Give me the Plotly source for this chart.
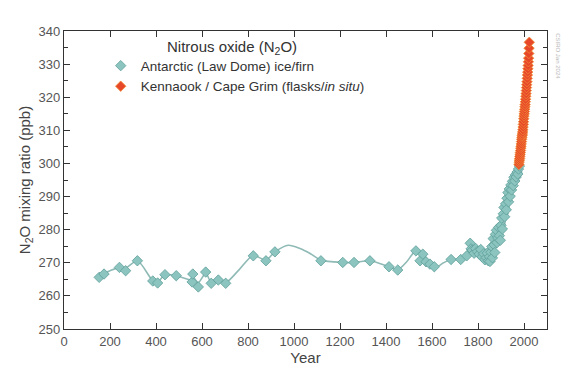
import plotly.graph_objects as go

# Antarctic (Law Dome) ice/firn samples
law_years = [153, 174, 241, 268, 319, 386, 407, 439, 488, 557, 560, 584, 616, 640, 671, 703,
             823, 878, 917, 1117, 1212, 1261, 1330, 1413, 1451, 1530, 1548, 1560, 1574, 1591,
             1610, 1683, 1725, 1751, 1766, 1770, 1775, 1783, 1790, 1797, 1805, 1812, 1818,
             1825, 1830, 1836, 1840, 1845, 1850, 1852, 1856, 1860, 1863, 1866, 1870, 1873,
             1876, 1880, 1883, 1886, 1890, 1893, 1897, 1900, 1903, 1906, 1910, 1913, 1916,
             1920, 1923, 1926, 1930, 1933, 1936, 1940, 1943, 1946, 1950, 1953, 1956, 1960,
             1963, 1966, 1970, 1973, 1976, 1980]
law_ppb = [265.6, 266.6, 268.6, 267.6, 270.6, 264.5, 263.9, 266.4, 266.1, 264.2, 266.6, 262.7,
           267.2, 263.8, 264.8, 263.8, 272.1, 270.6, 273.3, 270.6, 270.1, 270.1, 270.6, 268.8,
           267.8, 273.6, 270.6, 272.6, 270.3, 269.6, 268.8, 271.0, 271.0, 272.1, 275.9, 274.2,
           273.8, 272.9, 274.3, 273.4, 272.6, 274.0, 271.8, 272.7, 270.9, 271.6, 272.9, 270.6,
           271.8, 270.4, 273.2, 274.9, 271.5, 277.3, 275.4, 273.1, 278.6, 279.8, 276.1, 277.5,
           280.7, 278.2, 276.8, 281.3, 283.5, 280.2, 284.8, 286.7, 283.9, 287.8, 286.0, 289.5,
           291.2, 288.4, 292.3, 290.1, 293.5, 292.0, 294.6, 293.3, 295.8, 294.7, 296.6, 295.9,
           297.4, 296.8, 298.3, 299.2]

# Smoothed Law Dome curve
curve_years = [150, 174, 200, 243, 268, 319, 386, 407, 439, 488, 557, 560, 584, 616, 640, 671,
               703, 760, 823, 878, 917, 975, 1026, 1070, 1117, 1212, 1261, 1330, 1413, 1451,
               1490, 1530, 1562, 1613, 1650, 1683, 1726, 1751, 1765, 1794, 1838, 1870, 1900,
               1920, 1940, 1960, 1980]
curve_ppb = [265.6, 266.8, 267.6, 268.6, 268.4, 270.6, 264.6, 264.2, 266.4, 266.1, 264.8, 265.8,
             264.0, 266.8, 264.2, 264.8, 264.0, 267.8, 272.2, 270.8, 273.3, 275.3, 274.3, 272.8,
             270.8, 270.1, 270.1, 270.6, 268.8, 267.9, 270.3, 273.6, 272.3, 268.6, 270.0, 271.0,
             271.0, 271.8, 275.5, 273.6, 272.4, 274.2, 277.5, 283.0, 288.5, 293.5, 299.0]

# Kennaook / Cape Grim (flasks / in situ)
cg_years = list(range(1978, 2024))
cg_ppb = [299.7, 300.4, 301.0, 301.5, 302.1, 302.7, 303.3, 303.9, 304.6, 305.2, 305.9, 306.6,
          307.3, 307.9, 308.4, 308.9, 309.5, 310.2, 311.0, 311.8, 312.6, 313.5, 314.3, 315.0,
          315.7, 316.4, 317.1, 317.8, 318.6, 319.4, 320.3, 321.1, 322.0, 322.9, 323.8, 324.7,
          325.7, 326.7, 327.6, 328.6, 329.6, 330.7, 331.8, 333.2, 334.8, 336.6]

x_ticks = [0, 200, 400, 600, 800, 1000, 1200, 1400, 1600, 1800, 2000]
y_ticks = [250, 260, 270, 280, 290, 300, 310, 320, 330, 340]

FONT = "Liberation Sans Narrow, Liberation Sans, Arial, sans-serif"
TEAL_FILL = "#8cc4bf"
TEAL_EDGE = "#5f9f9a"

fig = go.Figure()
fig.add_trace(go.Scatter(
    x=curve_years, y=curve_ppb, mode="lines",
    line=dict(color="#8fbab6", width=1.6, shape="spline", smoothing=0.8),
    showlegend=False, hoverinfo="skip"))
fig.add_trace(go.Scatter(
    x=law_years, y=law_ppb, mode="markers", name="Antarctic (Law Dome) ice/firn",
    marker=dict(symbol="diamond", size=8, color=TEAL_FILL, line=dict(color=TEAL_EDGE, width=0.8))))
fig.add_trace(go.Scatter(
    x=cg_years, y=cg_ppb, mode="markers", name="Kennaook / Cape Grim (flasks/<i>in situ</i>)",
    marker=dict(symbol="diamond", size=8, color="#e8482a", line=dict(color="#f08a34", width=0.8))))

axis_common = dict(showline=True, linecolor="#333", linewidth=1.3, mirror="ticks",
                   ticks="inside", ticklen=6, tickwidth=1.2, tickcolor="#333",
                   showgrid=False, zeroline=False, automargin=False,
                   tickfont=dict(family=FONT, size=13, color="#555"))

fig.update_xaxes(range=[0, 2100], tickvals=x_ticks,
                 title=dict(text="Year", font=dict(family=FONT, size=15, color="#444"), standoff=4),
                 **axis_common)
fig.update_yaxes(range=[250, 340], tickvals=y_ticks,
                 title=dict(text="N<sub>2</sub>O mixing ratio (ppb)", font=dict(family=FONT, size=15, color="#444"), standoff=4),
                 minor=dict(ticks="inside", ticklen=4, tickwidth=1, tickcolor="#333", dtick=5),
                 **axis_common)

# page body adds an 8px offset, so the figure is sized to fit the 571x378 window
fig.update_layout(
    width=563, height=370,
    margin=dict(l=56, r=24, t=23, b=49, autoexpand=False),
    plot_bgcolor="white", paper_bgcolor="white",
    font=dict(family=FONT, color="#333"),
    legend=dict(x=0.076, y=0.935, xanchor="left", yanchor="top",
                bgcolor="rgba(0,0,0,0)", itemsizing="trace",
                font=dict(family=FONT, size=13.5, color="#333"),
                tracegroupgap=0),
    annotations=[
        dict(text="Nitrous oxide (N<sub>2</sub>O)", x=0.348, y=0.946, xref="paper", yref="paper",
             xanchor="center", yanchor="middle", showarrow=False,
             font=dict(family=FONT, size=15, color="#333")),
        dict(text="CSIRO Jan 2024", x=1.012, y=1.0, xref="paper", yref="paper",
             xanchor="left", yanchor="top", textangle=90, showarrow=False,
             font=dict(family=FONT, size=6, color="#bbb")),
    ],
)

fig.write_html("out.html")
